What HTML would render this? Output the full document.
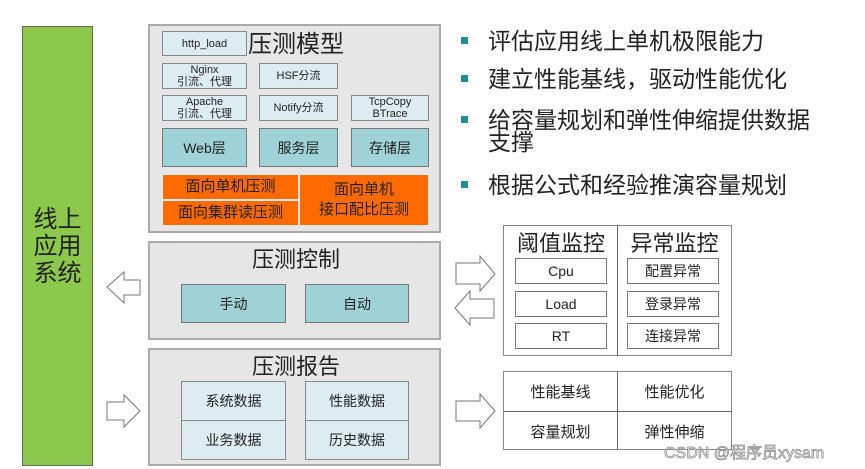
<!DOCTYPE html>
<html><head><meta charset="utf-8"><style>
body{margin:0;width:865px;height:469px;background:#fff;position:relative;overflow:hidden;font-family:"Liberation Sans","Noto Sans CJK SC",sans-serif;}
.a{position:absolute;box-sizing:border-box;display:flex;align-items:center;justify-content:center;text-align:center;color:#222;}
.g{background:#e6e6e6;border:2px solid #aaa;}
.lb{background:#dcecf0;border:1.5px solid #888;font-size:11px;line-height:12px;}
.tl{background:#9fd2d6;border:1.5px solid #777;font-size:14px;}
.or{background:#ff6a00;border:1px solid #e8e8e8;font-size:15px;line-height:20px;}
.t{font-size:22px;color:#222;}
.w{background:#fff;border:1.5px solid #777;font-size:14px;}
.bl{position:absolute;width:7px;height:7px;background:#1f8c94;left:461px;}
.bt{position:absolute;left:488px;font-size:23px;line-height:24px;color:#222;}
</style></head><body>
<div class="a" style="left:22px;top:26px;width:71px;height:440px;background:#8cc84b;border:1.5px solid #666;font-size:24px;line-height:27px;">线上<br>应用<br>系统</div>

<div class="a g" style="left:148px;top:24px;width:293px;height:209px;"></div>
<div class="a t" style="left:248px;top:26px;width:96px;height:30px;font-size:24px;">压测模型</div>
<div class="a lb" style="left:162px;top:31px;width:85px;height:25px;">http_load</div>
<div class="a lb" style="left:162px;top:63px;width:85px;height:26px;">Nginx<br>引流、代理</div>
<div class="a lb" style="left:259px;top:63px;width:79px;height:26px;">HSF分流</div>
<div class="a lb" style="left:162px;top:95px;width:85px;height:26px;">Apache<br>引流、代理</div>
<div class="a lb" style="left:259px;top:95px;width:79px;height:26px;">Notify分流</div>
<div class="a lb" style="left:351px;top:95px;width:78px;height:26px;">TcpCopy<br>BTrace</div>
<div class="a tl" style="left:162px;top:128px;width:85px;height:39px;">Web层</div>
<div class="a tl" style="left:259px;top:128px;width:79px;height:39px;">服务层</div>
<div class="a tl" style="left:351px;top:128px;width:78px;height:39px;">存储层</div>
<div class="a or" style="left:162px;top:174px;width:137px;height:26px;">面向单机压测</div>
<div class="a or" style="left:162px;top:200px;width:137px;height:26px;">面向集群读压测</div>
<div class="a or" style="left:299px;top:174px;width:130px;height:52px;">面向单机<br>接口配比压测</div>

<div class="a g" style="left:148px;top:241px;width:293px;height:99px;"></div>
<div class="a t" style="left:240px;top:244px;width:112px;height:28px;">压测控制</div>
<div class="a tl" style="left:181px;top:284px;width:105px;height:39px;">手动</div>
<div class="a tl" style="left:305px;top:284px;width:104px;height:39px;">自动</div>

<div class="a g" style="left:148px;top:348px;width:293px;height:118px;"></div>
<div class="a t" style="left:240px;top:351px;width:112px;height:28px;">压测报告</div>
<div class="a lb" style="left:181px;top:381px;width:105px;height:40px;font-size:14px;">系统数据</div>
<div class="a lb" style="left:181px;top:420px;width:105px;height:40px;font-size:14px;">业务数据</div>
<div class="a lb" style="left:305px;top:381px;width:104px;height:40px;font-size:14px;">性能数据</div>
<div class="a lb" style="left:305px;top:420px;width:104px;height:40px;font-size:14px;">历史数据</div>

<svg style="position:absolute;left:0;top:0" width="865" height="469">
<g fill="#fff" stroke="#777" stroke-width="1">
<polygon points="107,287 124,272 124,280 140,280 140,295 124,295 124,303"/>
<polygon points="107,402 124,402 124,395 140,411 124,427 124,420 107,420"/>
<polygon points="456,263 480,263 480,256 495,274 480,291 480,284 456,284"/>
<polygon points="455,308 470,291 470,299 494,299 494,318 470,318 470,325"/>
<polygon points="456,401 480,401 480,394 495,411 480,428 480,421 456,421"/>
</g>
<rect x="503.5" y="225.5" width="228" height="130" fill="#fff" stroke="#888"/>
<line x1="617.5" y1="225" x2="617.5" y2="356" stroke="#666"/>
<rect x="503.5" y="371.5" width="228" height="78" fill="#fff" stroke="#888"/>
<line x1="617.5" y1="371" x2="617.5" y2="450" stroke="#666"/>
<line x1="503" y1="411.5" x2="732" y2="411.5" stroke="#666"/>
</svg>
<div class="a t" style="left:505px;top:228px;width:112px;height:27px;">阈值监控</div>
<div class="a t" style="left:618px;top:228px;width:113px;height:27px;">异常监控</div>
<div class="a w" style="left:515px;top:258px;width:92px;height:26px;">Cpu</div>
<div class="a w" style="left:515px;top:291px;width:92px;height:26px;">Load</div>
<div class="a w" style="left:515px;top:323px;width:92px;height:26px;">RT</div>
<div class="a w" style="left:627px;top:258px;width:92px;height:26px;">配置异常</div>
<div class="a w" style="left:627px;top:291px;width:92px;height:26px;">登录异常</div>
<div class="a w" style="left:627px;top:323px;width:92px;height:26px;">连接异常</div>
<div class="a" style="left:504px;top:372px;width:113px;height:39px;font-size:15px;">性能基线</div>
<div class="a" style="left:618px;top:372px;width:113px;height:39px;font-size:15px;">性能优化</div>
<div class="a" style="left:504px;top:412px;width:113px;height:38px;font-size:15px;">容量规划</div>
<div class="a" style="left:618px;top:412px;width:113px;height:38px;font-size:15px;">弹性伸缩</div>

<div class="bl" style="top:37px"></div><div class="bt" style="top:29px">评估应用线上单机极限能力</div>
<div class="bl" style="top:75px"></div><div class="bt" style="top:67px">建立性能基线，驱动性能优化</div>
<div class="bl" style="top:116px"></div><div class="bt" style="top:108px">给容量规划和弹性伸缩提供数据<br><span style="position:relative;top:-2px">支撑</span></div>
<div class="bl" style="top:181px"></div><div class="bt" style="top:173px">根据公式和经验推演容量规划</div>

<div style="position:absolute;left:664px;top:439px;font-size:16px;color:#f4f4f4;-webkit-text-stroke:0.7px #888;">CSDN @程序员xysam</div>
</body></html>
